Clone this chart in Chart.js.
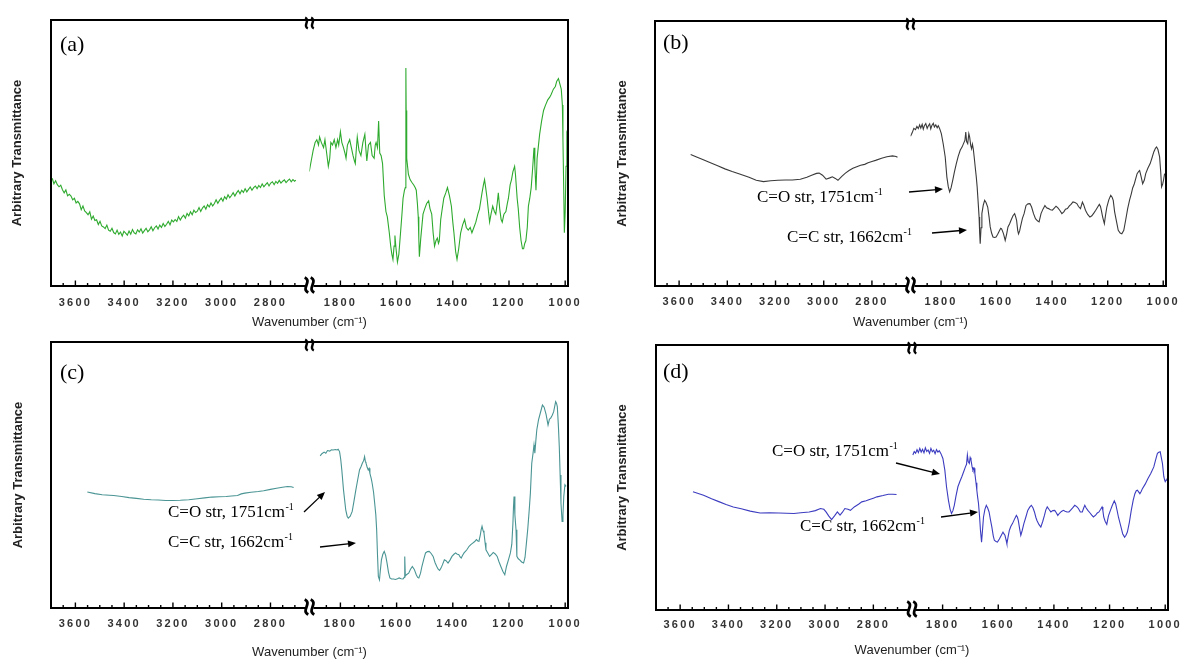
<!DOCTYPE html>
<html>
<head>
<meta charset="utf-8">
<script src="https://cdn.jsdelivr.net/npm/chart.js@4.4.1/dist/chart.umd.min.js"></script>
<style>
  html, body { margin: 0; padding: 0; background: #fff; }
  #wrap { position: relative; width: 1182px; height: 660px; overflow: hidden; }
  canvas { position: absolute; }
</style>
</head>
<body>
<div id="wrap">
  <canvas id="pa" width="591" height="330" style="left:0;top:0"></canvas>
  <canvas id="pb" width="592" height="330" style="left:590px;top:0"></canvas>
  <canvas id="pc" width="591" height="330" style="left:0;top:330px"></canvas>
  <canvas id="pd" width="592" height="330" style="left:590px;top:330px"></canvas>
</div>
<script>
// axis ticks (cm-1); the broken axis has a high and a low wavenumber part
const leftTicks = [2700, 2750, 2800, 2850, 2900, 2950, 3000, 3050, 3100, 3150, 3200, 3250, 3300, 3350, 3400, 3450, 3500, 3550, 3600, 3650];
const rightTicks = [1000, 1050, 1100, 1150, 1200, 1250, 1300, 1350, 1400, 1450, 1500, 1550, 1600, 1650, 1700, 1750, 1800, 1850];
const leftTickLabels = [3600, 3400, 3200, 3000, 2800];
const rightTickLabels = [1800, 1600, 1400, 1200, 1000];
const leftRange = [2640, 3700];
const rightRange = [990, 1910];

// spectra as [wavenumber, arbitrary transmittance 0-100]
const specA_hi = [[3695,40.5],[3688,38.4],[3681,39.6],[3674,38.1],[3667,37.3],[3660,37.9],[3653,36.2],[3646,35.0],[3639,36.1],[3632,33.9],[3625,34.5],[3618,33.8],[3611,32.4],[3604,33.0],[3597,31.2],[3590,31.8],[3583,30.9],[3576,28.7],[3569,30.1],[3562,28.2],[3555,27.6],[3548,26.8],[3541,27.9],[3534,25.1],[3527,26.3],[3520,24.6],[3513,24.9],[3506,23.1],[3499,24.3],[3492,22.6],[3485,22.2],[3478,21.6],[3471,22.9],[3464,21.0],[3457,20.6],[3450,21.7],[3443,20.1],[3436,19.6],[3429,21.0],[3422,19.4],[3415,20.3],[3408,18.8],[3401,20.6],[3394,19.9],[3387,19.1],[3380,20.7],[3373,19.5],[3366,21.2],[3359,20.0],[3352,19.6],[3345,21.1],[3338,20.3],[3331,21.5],[3324,19.9],[3317,20.8],[3310,21.7],[3303,20.4],[3296,21.1],[3289,22.3],[3282,20.8],[3275,21.9],[3268,22.6],[3261,21.4],[3254,22.9],[3247,22.0],[3240,23.5],[3233,22.4],[3226,23.2],[3219,24.3],[3212,23.0],[3205,24.8],[3198,24.1],[3191,25.0],[3184,24.3],[3177,26.1],[3170,24.8],[3163,25.9],[3156,26.6],[3149,25.5],[3142,27.3],[3135,26.4],[3128,27.9],[3121,26.8],[3114,28.5],[3107,27.6],[3100,28.1],[3093,29.5],[3086,28.0],[3079,29.3],[3072,30.1],[3065,28.9],[3058,30.6],[3051,29.7],[3044,31.2],[3037,30.1],[3030,31.0],[3023,32.4],[3016,31.1],[3009,32.2],[3002,33.1],[2995,31.9],[2988,33.6],[2981,32.7],[2974,34.3],[2967,33.2],[2960,34.0],[2953,35.1],[2946,33.8],[2939,35.0],[2932,35.9],[2925,34.7],[2918,36.0],[2911,35.2],[2904,36.6],[2897,35.4],[2890,36.3],[2883,37.2],[2876,36.0],[2869,37.0],[2862,37.6],[2855,36.6],[2848,37.8],[2841,37.0],[2834,38.4],[2827,37.3],[2820,38.1],[2813,38.8],[2806,37.6],[2799,38.7],[2792,39.2],[2785,38.1],[2778,39.3],[2771,38.6],[2764,39.7],[2757,38.7],[2750,39.4],[2743,39.9],[2736,38.9],[2729,39.6],[2722,40.2],[2715,39.2],[2708,40.0],[2701,39.4],[2696,39.8]];
const specA_lo = [[1911,43],[1904,47],[1897,51],[1890,54],[1884,55],[1878,53],[1874,56],[1868,54],[1860,52],[1855,55],[1849,50],[1843,45],[1838,48],[1834,54],[1828,53],[1822,55],[1816,52],[1810,55],[1806,53],[1800,58],[1795,54],[1789,52],[1784,50],[1780,48],[1775,53],[1767,55],[1761,52],[1755,49],[1750,47],[1747,46],[1743,52],[1740,56],[1734,51],[1727,49],[1720,54],[1713,57],[1709,51],[1706,47],[1700,53],[1693,54],[1687,49],[1680,48],[1676,53],[1673,54],[1668,52],[1664,62],[1660,50],[1655,49],[1650,46],[1644,34],[1638,28],[1633,26],[1626,20],[1621,15],[1617,12],[1613,10],[1609,15],[1606,19],[1602,14],[1597,9],[1592,12],[1586,20],[1581,27],[1577,33],[1572,36],[1569,37],[1567,82],[1566,66],[1564,48],[1558,42],[1552,40],[1546,39],[1539,38],[1534,37],[1530,36],[1526,31],[1523,26],[1521,18],[1519,11],[1514,18],[1506,27],[1500,29],[1493,31],[1486,32],[1481,29],[1475,27],[1470,20],[1465,15],[1460,17],[1455,18],[1451,16],[1448,17],[1443,25],[1439,28],[1432,33],[1425,35],[1419,37],[1412,34],[1405,30],[1400,24],[1396,20],[1390,13],[1385,10],[1379,14],[1372,20],[1365,23],[1358,25],[1352,22],[1345,21],[1338,22],[1332,20],[1325,22],[1318,24],[1311,27],[1305,29],[1296,35],[1291,38],[1287,40],[1283,37],[1278,33],[1273,28],[1269,24],[1264,27],[1258,30],[1252,28],[1247,27],[1242,31],[1238,35],[1233,29],[1228,25],[1224,24],[1218,27],[1211,28],[1206,31],[1202,33],[1196,38],[1191,40],[1186,43],[1180,45],[1177,42],[1175,39],[1171,33],[1167,29],[1162,22],[1157,17],[1152,14],[1148,14],[1144,16],[1140,17],[1135,22],[1131,30],[1126,33],[1121,37],[1116,44],[1111,52],[1108,45],[1104,36],[1100,48],[1091,57],[1084,62],[1077,66],[1070,68],[1062,70],[1055,71],[1050,72],[1042,74],[1035,75],[1030,77],[1024,78],[1019,76],[1014,74],[1010,68],[1008,55],[1005,35],[1003,20],[1000,28],[997,45],[994,58],[991,59]];

const specB_hi = [[3552,49.6],[3530,48.8],[3502,47.7],[3470,46.5],[3440,45.4],[3410,44.2],[3380,43.2],[3346,42.2],[3310,41.0],[3280,39.9],[3250,39.4],[3220,39.7],[3190,39.9],[3160,40.0],[3130,40.0],[3097,40.3],[3070,41.0],[3050,41.8],[3030,42.5],[3019,42.6],[3005,41.8],[2990,40.3],[2975,40.8],[2964,41.2],[2952,40.6],[2941,39.9],[2925,41.4],[2910,42.6],[2895,43.6],[2879,44.4],[2863,45.0],[2847,45.6],[2830,45.9],[2816,46.5],[2800,47.0],[2785,47.4],[2760,48.2],[2738,48.8],[2715,49.1],[2700,48.9],[2694,48.6]];
const specB_lo = [[1910,56.5],[1904,57.8],[1898,59.5],[1892,59.0],[1887,60.2],[1882,59.4],[1877,60.8],[1873,59.6],[1868,61.0],[1864,59.2],[1860,60.5],[1855,61.3],[1850,59.5],[1846,60.4],[1841,61.2],[1837,59.3],[1833,60.6],[1828,61.4],[1824,60.0],[1819,60.8],[1814,59.7],[1810,60.5],[1805,59.4],[1799,57.5],[1792,53.5],[1785,48.7],[1779,41.1],[1774,37.5],[1769,35.5],[1764,37.0],[1758,39.9],[1752,43.0],[1745,46.2],[1738,49.0],[1731,51.2],[1724,52.5],[1718,54.0],[1714,55.0],[1711,58.1],[1708,54.5],[1704,53.7],[1700,57.5],[1697,56.2],[1693,53.0],[1690,51.8],[1687,53.5],[1684,51.8],[1680,48.0],[1677,44.9],[1673,41.0],[1670,37.4],[1666,31.0],[1663,26.0],[1661,20.0],[1659,16.0],[1656,22.0],[1653,27.3],[1648,30.5],[1643,32.3],[1638,31.5],[1632,29.8],[1627,26.0],[1623,22.3],[1618,20.0],[1613,18.5],[1607,18.3],[1602,18.5],[1596,19.5],[1589,21.0],[1585,21.8],[1582,21.6],[1578,20.5],[1575,19.7],[1569,17.2],[1564,19.5],[1559,22.3],[1553,23.5],[1548,24.8],[1541,26.5],[1535,27.3],[1531,26.0],[1528,24.8],[1524,21.0],[1521,19.7],[1517,20.8],[1514,22.3],[1507,25.5],[1501,27.3],[1494,30.4],[1487,31.0],[1480,31.1],[1474,29.8],[1467,27.3],[1460,25.4],[1453,24.6],[1447,24.2],[1440,27.3],[1433,29.0],[1426,30.4],[1420,29.5],[1413,29.2],[1406,28.8],[1399,28.6],[1393,29.3],[1386,30.1],[1380,29.6],[1372,28.5],[1365,27.3],[1358,28.0],[1352,29.0],[1345,29.2],[1338,30.2],[1332,30.8],[1325,31.7],[1318,31.5],[1311,31.1],[1305,30.0],[1298,29.2],[1291,31.7],[1286,30.5],[1280,28.6],[1272,27.0],[1264,26.0],[1257,26.5],[1250,27.5],[1243,28.6],[1236,29.8],[1230,30.8],[1226,30.0],[1223,28.6],[1218,26.0],[1212,23.5],[1208,26.5],[1203,29.8],[1196,32.5],[1189,34.2],[1184,33.5],[1180,32.3],[1175,28.0],[1169,24.8],[1162,21.0],[1155,20.0],[1149,19.7],[1142,21.0],[1135,25.0],[1128,29.2],[1121,32.5],[1115,34.8],[1110,37.0],[1104,38.6],[1099,40.5],[1094,42.4],[1088,43.3],[1085,43.6],[1080,41.5],[1074,38.6],[1068,40.0],[1063,42.4],[1055,44.5],[1047,46.2],[1040,48.5],[1034,50.6],[1028,52.0],[1024,52.5],[1019,51.5],[1013,48.7],[1009,43.0],[1006,37.4],[1002,38.5],[999,39.9],[995,42.4]];

const specC_hi = [[3551,43.6],[3520,43.0],[3490,42.6],[3460,42.4],[3443,42.3],[3410,41.9],[3380,41.5],[3350,41.2],[3320,40.9],[3289,40.7],[3260,40.6],[3230,40.4],[3200,40.4],[3170,40.5],[3135,40.7],[3100,41.1],[3070,41.4],[3040,41.7],[3010,41.8],[2982,41.9],[2960,42.1],[2935,42.3],[2920,42.9],[2905,43.2],[2880,43.5],[2850,43.8],[2828,44.1],[2800,44.6],[2775,45.0],[2751,45.4],[2730,45.7],[2715,45.6],[2705,45.3]];
const specC_lo = [[1872,57.2],[1866,58.0],[1858,58.6],[1852,58.2],[1846,59.2],[1838,59.0],[1832,59.5],[1826,59.4],[1818,59.6],[1812,59.4],[1808,59.7],[1803,58.8],[1799,56.0],[1795,51.9],[1789,44.4],[1781,36.9],[1776,34.5],[1772,33.8],[1765,34.5],[1758,36.3],[1752,40.0],[1745,44.4],[1738,48.5],[1732,51.9],[1726,53.3],[1722,54.4],[1717,55.5],[1714,56.9],[1711,55.0],[1709,54.5],[1705,53.0],[1701,51.9],[1698,52.5],[1695,50.6],[1690,48.5],[1687,46.9],[1682,43.5],[1678,39.4],[1674,35.0],[1671,29.4],[1668,20.0],[1665,11.9],[1661,10.6],[1658,14.0],[1654,18.1],[1649,20.2],[1644,21.3],[1639,19.8],[1634,16.9],[1629,13.5],[1624,11.3],[1618,10.9],[1611,10.9],[1604,10.7],[1597,11.0],[1591,11.3],[1584,11.0],[1577,10.9],[1573,11.5],[1571,19.4],[1569,12.0],[1564,12.6],[1557,13.1],[1551,14.5],[1544,15.6],[1537,14.5],[1530,12.5],[1525,11.5],[1521,11.3],[1515,13.0],[1510,15.6],[1503,18.5],[1497,20.7],[1490,21.2],[1484,21.3],[1477,20.5],[1470,19.4],[1463,17.0],[1457,15.6],[1452,14.6],[1447,14.1],[1442,15.0],[1437,16.2],[1430,18.1],[1424,17.8],[1417,16.9],[1410,18.0],[1403,19.4],[1396,20.2],[1390,20.7],[1384,20.2],[1379,20.1],[1374,19.2],[1370,18.8],[1365,19.8],[1360,20.7],[1355,21.3],[1350,21.9],[1342,23.2],[1336,23.8],[1329,24.4],[1322,25.0],[1316,25.7],[1311,25.2],[1307,25.1],[1302,27.5],[1299,29.5],[1296,30.7],[1292,29.0],[1289,28.2],[1285,24.5],[1282,21.9],[1276,20.8],[1269,19.4],[1262,20.2],[1256,20.9],[1249,20.3],[1242,19.4],[1236,17.5],[1229,15.6],[1222,13.8],[1215,12.5],[1209,15.6],[1202,18.1],[1195,20.7],[1190,24.0],[1186,31.9],[1184,38.0],[1182,41.9],[1179,35.0],[1175,29.4],[1172,19.4],[1167,18.5],[1162,18.1],[1155,17.3],[1148,16.9],[1143,19.0],[1138,24.4],[1133,30.0],[1128,36.9],[1124,43.0],[1119,54.4],[1114,58.5],[1111,61.3],[1108,58.2],[1104,63.5],[1101,67.0],[1095,70.7],[1088,73.5],[1081,76.3],[1075,75.5],[1068,72.8],[1061,68.8],[1056,71.0],[1052,71.3],[1046,72.5],[1041,73.8],[1034,77.6],[1031,77.0],[1028,75.7],[1024,68.0],[1021,60.6],[1018,50.0],[1015,39.4],[1011,32.5],[1008,35.0],[1005,41.9],[1001,46.3],[997,45.7]];

const specD_hi = [[3547,44.6],[3525,44.0],[3503,43.3],[3470,42.0],[3440,40.9],[3410,39.8],[3380,38.9],[3347,38.2],[3310,37.3],[3269,36.6],[3230,36.7],[3191,36.6],[3160,36.5],[3129,36.4],[3100,36.7],[3066,37.0],[3040,37.5],[3019,38.3],[3005,38.0],[2996,37.0],[2985,35.5],[2973,34.1],[2960,35.6],[2949,37.0],[2938,35.8],[2928,36.9],[2918,38.3],[2905,38.0],[2895,37.6],[2879,38.9],[2860,40.0],[2848,40.8],[2830,41.2],[2816,41.7],[2800,42.2],[2785,42.7],[2760,43.2],[2738,43.7],[2720,43.7],[2704,43.6]];
const specD_lo = [[1907,58.5],[1902,59.8],[1897,59.2],[1892,60.5],[1887,59.4],[1882,61.0],[1877,59.6],[1872,60.6],[1867,59.3],[1862,61.2],[1857,59.8],[1852,60.4],[1847,59.1],[1842,61.0],[1837,59.7],[1832,60.3],[1827,59.0],[1822,60.5],[1817,59.6],[1812,60.1],[1806,59.0],[1799,57.2],[1792,52.8],[1786,46.5],[1779,41.4],[1773,38.0],[1768,36.4],[1763,37.5],[1758,39.5],[1752,43.0],[1745,46.5],[1738,48.5],[1731,50.3],[1725,52.0],[1718,54.0],[1714,55.0],[1711,58.5],[1708,56.0],[1704,55.3],[1701,57.5],[1698,56.6],[1694,54.0],[1691,52.8],[1687,53.5],[1684,51.5],[1680,48.0],[1677,45.2],[1674,42.5],[1671,40.2],[1667,35.0],[1664,30.1],[1660,25.6],[1656,31.0],[1653,35.1],[1648,38.0],[1643,39.5],[1638,38.5],[1633,37.0],[1628,34.0],[1623,31.3],[1618,28.0],[1614,26.3],[1608,25.8],[1603,25.6],[1596,26.8],[1589,28.2],[1583,29.4],[1580,28.8],[1576,28.2],[1572,26.5],[1569,25.0],[1564,28.0],[1560,30.1],[1555,31.5],[1549,32.6],[1542,34.2],[1535,35.7],[1531,35.0],[1528,33.8],[1523,30.5],[1519,28.2],[1514,30.0],[1508,32.6],[1501,35.0],[1494,37.6],[1487,38.8],[1481,39.5],[1475,38.5],[1470,37.0],[1465,35.0],[1461,33.8],[1454,32.3],[1447,31.3],[1440,33.5],[1434,35.7],[1429,37.8],[1424,38.9],[1418,38.0],[1411,37.0],[1404,37.5],[1397,37.6],[1392,36.8],[1386,35.7],[1380,36.5],[1373,37.2],[1366,37.6],[1360,37.3],[1353,37.0],[1346,37.0],[1339,37.8],[1332,38.6],[1325,39.5],[1318,39.0],[1312,38.3],[1305,37.0],[1298,37.0],[1293,38.5],[1289,39.5],[1284,38.5],[1278,37.6],[1270,36.6],[1264,35.8],[1258,35.1],[1250,35.8],[1244,36.6],[1238,37.0],[1232,38.0],[1227,38.9],[1224,37.5],[1221,35.1],[1216,33.5],[1210,32.3],[1204,35.5],[1197,37.6],[1190,39.5],[1183,41.2],[1178,40.0],[1173,37.6],[1168,35.0],[1162,32.6],[1157,30.5],[1153,28.8],[1146,27.5],[1141,28.2],[1136,29.4],[1129,33.0],[1122,37.6],[1115,41.5],[1109,43.9],[1104,45.0],[1100,45.2],[1095,44.5],[1091,43.9],[1086,44.8],[1082,45.8],[1072,47.5],[1062,49.6],[1052,51.5],[1041,54.0],[1035,56.5],[1028,59.1],[1023,59.5],[1018,59.7],[1014,57.5],[1010,55.3],[1005,50.3],[1002,49.0],[1000,48.4],[997,49.0],[994,49.6]];

const noteCO = 'C=O str, 1751cm';
const noteCC = 'C=C str, 1662cm';

// layout of the four panels (pixels inside each canvas)
const panels = [
  { id: 'pa', tag: '(a)', hi: specA_hi, lo: specA_lo, color: '#2eaa2e', w: 591, yW: 51, padTop: 20, padRight: 23, padBottom: 0, areaBottom: 286, yTitleX: 17, labelPad: 10, tagAt: [9, 25], notes: [] },
  { id: 'pb', tag: '(b)', hi: specB_hi, lo: specB_lo, color: '#3a3a3a', w: 592, yW: 65, padTop: 21, padRight: 16, padBottom: 0, areaBottom: 286, yTitleX: 32, labelPad: 9, tagAt: [8, 22],
    notes: [{ text: noteCO, at: [102, 177], arrow: [254, 171, 288, 168] }, { text: noteCC, at: [132, 217], arrow: [277, 212, 312, 209] }] },
  { id: 'pc', tag: '(c)', hi: specC_hi, lo: specC_lo, color: '#4a9494', w: 591, yW: 51, padTop: 12, padRight: 23, padBottom: 0, areaBottom: 278, yTitleX: 18, labelPad: 9, tagAt: [9, 31],
    notes: [{ text: noteCO, at: [117, 171], arrow: [253, 170, 274, 150] }, { text: noteCC, at: [117, 201], arrow: [269, 205, 305, 201] }] },
  { id: 'pd', tag: '(d)', hi: specD_hi, lo: specD_lo, color: '#3c3cc0', w: 592, yW: 66, padTop: 15, padRight: 14, padBottom: 2, areaBottom: 280, yTitleX: 32, labelPad: 8, tagAt: [7, 27],
    notes: [{ text: noteCO, at: [116, 107], arrow: [240, 118, 284, 129] }, { text: noteCC, at: [144, 182], arrow: [285, 172, 322, 167] }] }
];

const H = 330;
const titleSize = 13;
const pts = (arr) => arr.map(p => ({ x: p[0], y: p[1] }));

function drawS(ctx, cx, cy, h) {
  ctx.beginPath();
  ctx.moveTo(cx - h * 0.12, cy - h / 2);
  ctx.bezierCurveTo(cx + h * 0.4, cy - h * 0.25, cx - h * 0.4, cy + h * 0.25, cx + h * 0.12, cy + h / 2);
  ctx.stroke();
}

function drawBreak(ctx, x, y, h, lw) {
  ctx.fillStyle = '#fff';
  ctx.fillRect(x - 4, y - 2, 8, 4);
  ctx.lineWidth = lw;
  drawS(ctx, x - 3, y, h);
  drawS(ctx, x + 3, y, h);
}

function drawArrow(ctx, x1, y1, x2, y2) {
  const a = Math.atan2(y2 - y1, x2 - x1);
  ctx.lineWidth = 1.3;
  ctx.beginPath();
  ctx.moveTo(x1, y1);
  ctx.lineTo(x2 - 6 * Math.cos(a), y2 - 6 * Math.sin(a));
  ctx.stroke();
  ctx.beginPath();
  ctx.moveTo(x2, y2);
  ctx.lineTo(x2 - 8 * Math.cos(a) + 3.5 * Math.sin(a), y2 - 8 * Math.sin(a) - 3.5 * Math.cos(a));
  ctx.lineTo(x2 - 8 * Math.cos(a) - 3.5 * Math.sin(a), y2 - 8 * Math.sin(a) + 3.5 * Math.cos(a));
  ctx.closePath();
  ctx.fill();
}

function makeDecor(p) {
  return {
    id: 'decor',
    afterDatasetsDraw(chart) { chart.ctx.letterSpacing = '2.2px'; },
    afterDraw(chart) {
      const ctx = chart.ctx;
      ctx.letterSpacing = '0px';
      const { left, top, right, bottom } = chart.chartArea;
      ctx.save();
      ctx.strokeStyle = '#000';
      ctx.fillStyle = '#000';
      ctx.lineWidth = 2;
      ctx.strokeRect(left, top, right - left, bottom - top);

      ctx.lineWidth = 1.4;
      [['xL', leftTickLabels], ['xR', rightTickLabels]].forEach(([id, major]) => {
        const s = chart.scales[id];
        s.ticks.forEach(t => {
          const px = s.getPixelForValue(t.value);
          const len = major.includes(t.value) ? 5.5 : 3;
          ctx.beginPath();
          ctx.moveTo(px, bottom);
          ctx.lineTo(px, bottom - len);
          ctx.stroke();
        });
      });

      const bx = chart.scales.xL.right;
      ctx.strokeStyle = '#000';
      drawBreak(ctx, bx, top + 3, 11, 2.4);
      ctx.strokeStyle = '#000';
      drawBreak(ctx, bx, bottom - 1, 15, 2.8);

      ctx.fillStyle = '#000';
      ctx.strokeStyle = '#000';
      ctx.textBaseline = 'middle';
      ctx.textAlign = 'left';
      ctx.font = '22px "Liberation Serif"';
      ctx.fillText(p.tag, left + p.tagAt[0], top + p.tagAt[1]);

      p.notes.forEach(n => {
        const x = left + n.at[0], y = top + n.at[1];
        ctx.font = '17px "Liberation Serif"';
        ctx.fillText(n.text, x, y);
        const w = ctx.measureText(n.text).width;
        ctx.font = '10px "Liberation Serif"';
        ctx.fillText('-1', x + w + 0.5, y - 6);
        const a = n.arrow;
        drawArrow(ctx, left + a[0], top + a[1], left + a[2], top + a[3]);
      });
      ctx.restore();
    }
  };
}

function xAxis(range, ticks, labels, p, xH) {
  return {
    type: 'linear',
    position: 'bottom',
    stack: 'wn',
    stackWeight: 1,
    reverse: true,
    min: range[0],
    max: range[1],
    offset: false,
    grid: { display: false, drawTicks: false },
    border: { display: false },
    afterBuildTicks: (s) => { s.ticks = ticks.map(v => ({ value: v })); },
    afterFit: (s) => { s.height = xH; s.paddingLeft = 0; s.paddingRight = 0; },
    ticks: {
      autoSkip: false,
      maxRotation: 0,
      minRotation: 0,
      padding: p.labelPad,
      color: '#333',
      z: 1,
      font: { family: 'Liberation Sans', size: 11, weight: 'bold' },
      callback: (v) => labels.includes(v) ? String(v) : ''
    }
  };
}

Chart.defaults.font.family = 'Liberation Sans';

panels.forEach(p => {
  const titleH = titleSize * 1.2;
  const xH = H - p.padBottom - titleH - p.areaBottom;
  new Chart(document.getElementById(p.id), {
    type: 'line',
    data: {
      datasets: [
        { data: pts(p.hi), xAxisID: 'xL', yAxisID: 'y', borderColor: p.color, borderWidth: 1.1, pointRadius: 0, tension: 0, fill: false },
        { data: pts(p.lo), xAxisID: 'xR', yAxisID: 'y', borderColor: p.color, borderWidth: 1.1, pointRadius: 0, tension: 0, fill: false }
      ]
    },
    options: {
      responsive: false,
      animation: false,
      layout: { padding: { left: 0, top: p.padTop, right: p.padRight, bottom: p.padBottom } },
      scales: {
        xL: xAxis(leftRange, leftTicks, leftTickLabels, p, xH),
        xR: xAxis(rightRange, rightTicks, rightTickLabels, p, xH),
        y: {
          min: 0,
          max: 100,
          ticks: { display: false },
          grid: { display: false },
          border: { display: false },
          afterFit: (s) => { s.width = p.yW; },
          title: {
            display: true,
            text: 'Arbitrary Transmittance',
            color: '#222',
            font: { family: 'Liberation Sans', size: 13, weight: 'bold' },
            padding: { top: p.yTitleX - 7.8, bottom: 0 }
          }
        }
      },
      plugins: {
        legend: { display: false },
        tooltip: { enabled: false },
        title: {
          display: true,
          position: 'bottom',
          fullSize: false,
          text: 'Wavenumber (cm⁻¹)',
          color: '#222',
          font: { family: 'Liberation Sans', size: titleSize, weight: 'normal' },
          padding: 0
        }
      }
    },
    plugins: [makeDecor(p)]
  });
});
</script>
</body>
</html>
